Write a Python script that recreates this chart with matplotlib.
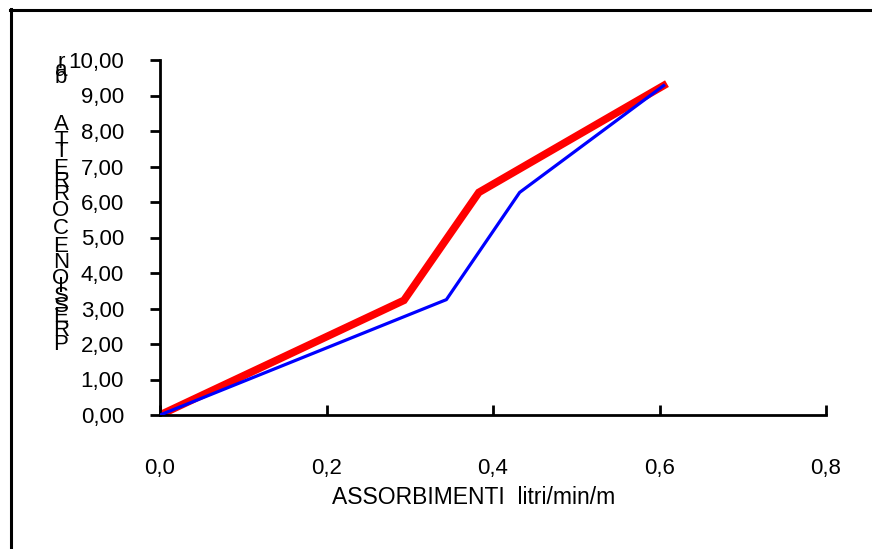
import matplotlib
matplotlib.use("Agg")
import matplotlib.pyplot as plt
from matplotlib.lines import Line2D
from matplotlib.ticker import FuncFormatter

plt.rcParams['font.family'] = ['Liberation Sans', 'DejaVu Sans']

# data
red_x = [0.0, 0.293, 0.383, 0.605]
red_y = [0.0, 3.23, 6.27, 9.28]
blue_x = [0.0, 0.344, 0.432, 0.605]
blue_y = [0.0, 3.25, 6.27, 9.28]

x_ticks = [0.0, 0.2, 0.4, 0.6, 0.8]
y_ticks = [0, 1, 2, 3, 4, 5, 6, 7, 8, 9, 10]
x_label = "ASSORBIMENTI  litri/min/m"
y_label = "PRESSIONE CORRETTA bar"

W, H = 872, 549
fig = plt.figure(figsize=(W / 100, H / 100), dpi=100)
ax = fig.add_axes([160 / W, 1 - 415 / H, (826 - 160) / W, (415 - 60) / H])

ax.plot(red_x, red_y, color='#ff0000', lw=5.5, solid_joinstyle='miter', zorder=2)
ax.plot(blue_x, blue_y, color='#0000ff', lw=2.3, zorder=3)

ax.set_xlim(0, 0.8)
ax.set_ylim(0, 10)
ax.set_xticks(x_ticks)
ax.set_yticks(y_ticks)
ax.xaxis.set_major_formatter(FuncFormatter(lambda v, p: f"{v:.1f}".replace('.', ',')))
ax.yaxis.set_major_formatter(FuncFormatter(lambda v, p: f"{v:.2f}".replace('.', ',')))

for side in ['top', 'right']:
    ax.spines[side].set_visible(False)
for side in ['left', 'bottom']:
    ax.spines[side].set_linewidth(2.0)
    ax.spines[side].set_capstyle('projecting')
ax.tick_params(axis='y', direction='out', length=7, width=2.0, pad=19, labelsize=16)
ax.tick_params(axis='x', direction='in', length=7, width=2.0, pad=31, labelsize=16)
for lab in ax.get_xticklabels() + ax.get_yticklabels():
    lab.set_clip_on(False)

fig.text(474 / W, 1 - 497 / H, x_label, ha='center', va='center', fontsize=16.5)

# y label: letters of the rotated title drawn upright, stacked bottom to top
chars = list(y_label)
centers = [344, 331, 317, 306, 296, 287, 278, 262, 246, 237,
           229, 211, 195, 181, 168, 152, 140, 125, 100, 78, 70, 62]
for ch, yc in zip(chars, centers):
    if ch != ' ':
        fig.text(61 / W, 1 - yc / H, ch, ha='center', va='center', fontsize=16)

# frame lines at top and left of the picture
fig.add_artist(Line2D([10 / W, 1], [1 - 9.5 / H, 1 - 9.5 / H], color='black', lw=2.2,
                      transform=fig.transFigure))
fig.add_artist(Line2D([11 / W, 11 / W], [1 - 8.5 / H, 0], color='black', lw=2.2,
                      transform=fig.transFigure))

fig.savefig("out.png", dpi=100)
